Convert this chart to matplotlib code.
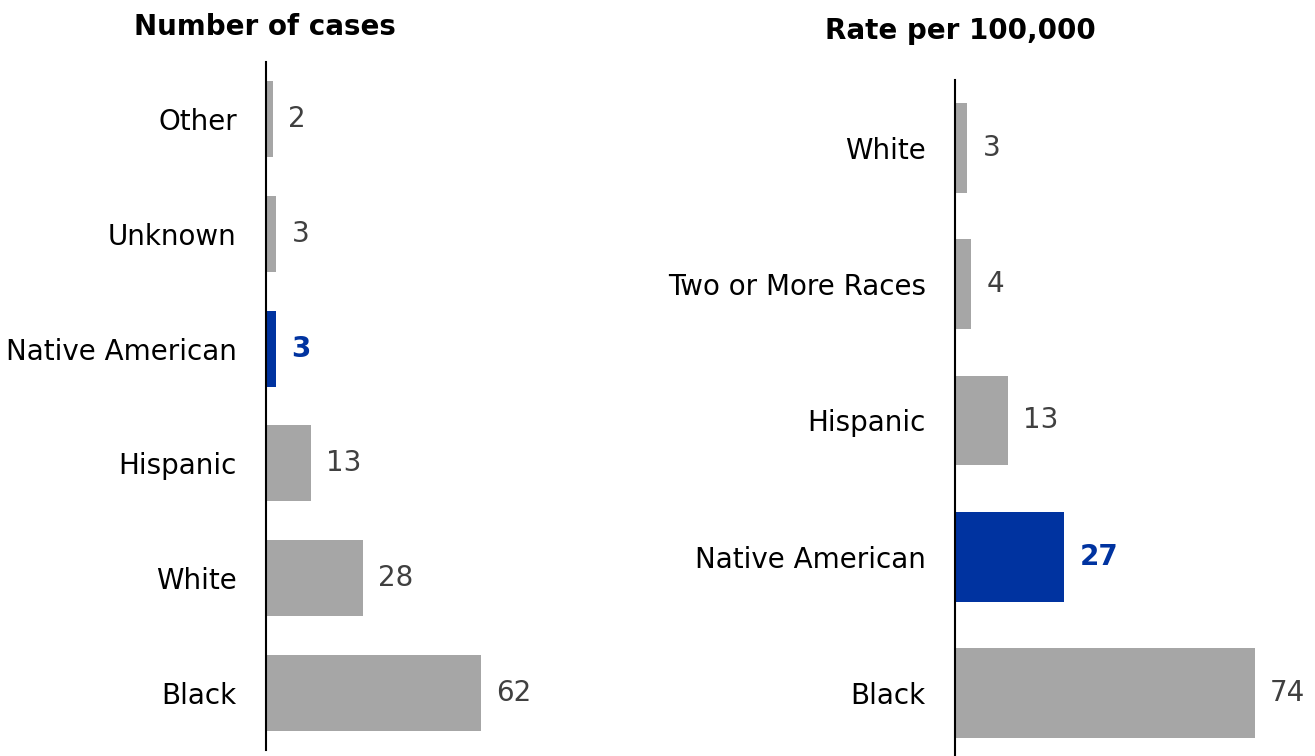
import matplotlib.pyplot as plt

# datos
cases_labels = ["Other", "Unknown", "Native American", "Hispanic", "White", "Black"]
cases_values = [2, 3, 3, 13, 28, 62]
cases_highlight = "Native American"

rate_labels = ["White", "Two or More Races", "Hispanic", "Native American", "Black"]
rate_values = [3, 4, 13, 27, 74]
rate_highlight = "Native American"

gray = "#A6A6A6"
blue = "#0033A0"
txt_gray = "#404040"

fig = plt.figure(figsize=(13.15, 7.56), dpi=100)

def panel(ax, labels, values, hl, title, tx, ty):
    n = len(labels)
    ys = list(range(n))
    colors = [blue if l == hl else gray for l in labels]
    ax.barh(ys, values, height=0.66, color=colors)
    ax.set_ylim(n - 0.5, -0.5)
    ax.set_xlim(0, 80)
    ax.set_yticks(ys)
    ax.set_yticklabels(labels, fontsize=20)
    ax.tick_params(axis="y", length=0, pad=21)
    ax.set_xticks([])
    for s in ["top", "right", "bottom"]:
        ax.spines[s].set_visible(False)
    ax.spines["left"].set_linewidth(1.5)
    for y, v, l in zip(ys, values, labels):
        if l == hl:
            ax.annotate(str(v), (v, y), xytext=(11, 0), textcoords="offset points",
                        va="center", ha="left", fontsize=20, color=blue, fontweight="bold")
        else:
            ax.annotate(str(v), (v, y), xytext=(11, 0), textcoords="offset points",
                        va="center", ha="left", fontsize=20, color=txt_gray)
    fig.text(tx, ty, title, ha="center", va="center", fontsize=20, fontweight="bold")

ax1 = fig.add_axes([266 / 1315, 1 - 750 / 756, 277 / 1315, 688 / 756])
panel(ax1, cases_labels, cases_values, cases_highlight, "Number of cases", 265 / 1315, 1 - 27 / 756)

ax2 = fig.add_axes([955 / 1315, 1 - 761 / 756, 324 / 1315, 681 / 756])
panel(ax2, rate_labels, rate_values, rate_highlight, "Rate per 100,000", 960 / 1315, 1 - 31 / 756)

plt.savefig("out.png", dpi=100)
